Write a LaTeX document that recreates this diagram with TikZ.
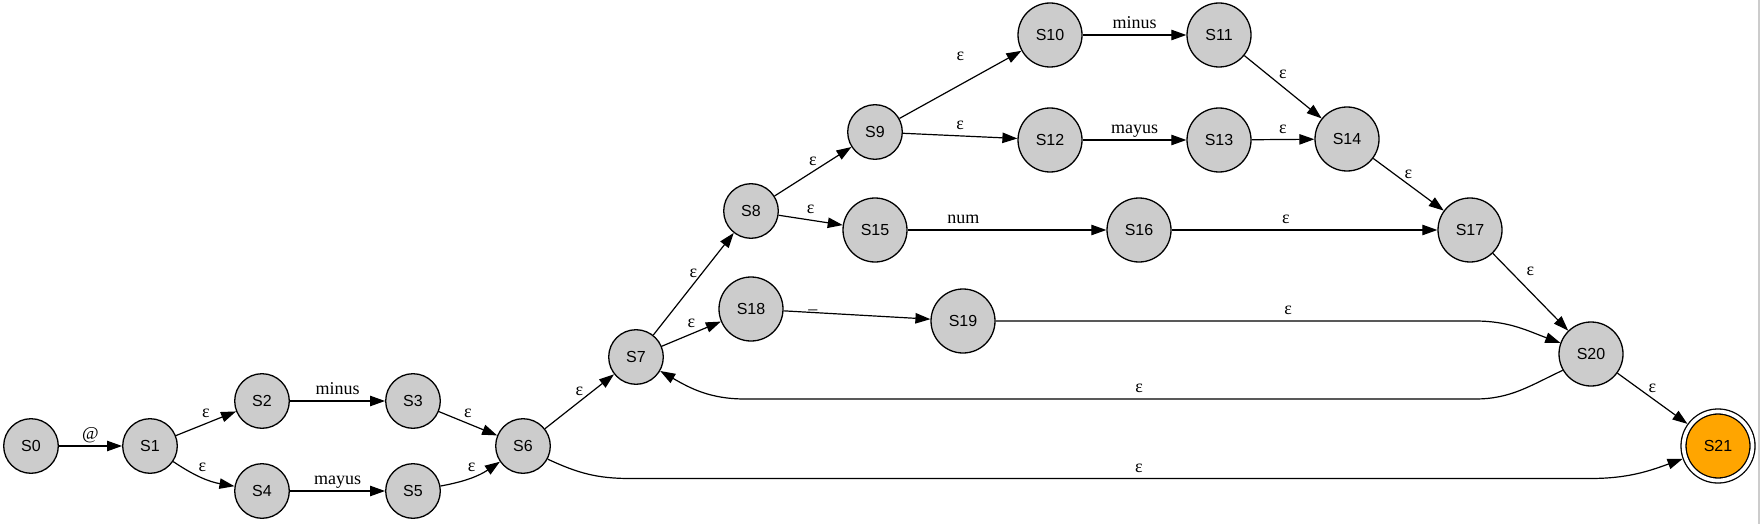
\documentclass[tikz,border=0pt]{standalone}
\usepackage{fontspec}
\setmainfont{Liberation Serif}
\newfontfamily\statefont{Liberation Sans}
\usetikzlibrary{arrows.meta}
\definecolor{stategray}{HTML}{CCCCCC}
\definecolor{finalorange}{HTML}{FFA500}

\begin{document}
\begin{tikzpicture}[x=0.5pt, y=-0.5pt,
  state/.style={circle, draw, line width=0.65pt, fill=stategray, minimum size=27.3pt, inner sep=0pt, font=\statefont\fontsize{8}{9}\selectfont},
  wide/.style={minimum size=32pt},
  final/.style={fill=finalorange, minimum size=34.5pt, double, double distance=1.85pt, outer sep=1.6pt},
  edge/.style={-{Triangle[length=7.5pt,width=5.2pt]}, line width=0.6pt},
  lbl/.style={font=\fontsize{9}{10}\selectfont, inner sep=1.5pt, text height=1.4ex, text depth=.3ex}]
\useasboundingbox (0,0) rectangle (1761,524);
\draw[black!20, line width=0.8pt] (1759,0) -- (1759,524);

\node[state] (S0) at (31,446) {S0};
\node[state] (S1) at (150,446) {S1};
\node[state] (S2) at (262,401) {S2};
\node[state] (S3) at (413,401) {S3};
\node[state] (S4) at (262,491) {S4};
\node[state] (S5) at (413,491) {S5};
\node[state] (S6) at (523,446) {S6};
\node[state] (S7) at (636,357) {S7};
\node[state] (S8) at (751,211) {S8};
\node[state] (S9) at (875,132) {S9};
\node[state, wide] (S10) at (1050,35) {S10};
\node[state, wide] (S11) at (1219,35) {S11};
\node[state, wide] (S12) at (1050,140) {S12};
\node[state, wide] (S13) at (1219,140) {S13};
\node[state, wide] (S14) at (1347,139) {S14};
\node[state, wide] (S15) at (875,230) {S15};
\node[state, wide] (S16) at (1139,230) {S16};
\node[state, wide] (S17) at (1470,230) {S17};
\node[state, wide] (S18) at (751,309) {S18};
\node[state, wide] (S19) at (963,321) {S19};
\node[state, wide] (S20) at (1591,354) {S20};
\node[state, final] (S21) at (1718,446) {S21};

\coordinate (c19) at (1475,321);
\coordinate (c20) at (1475,399);
\coordinate (c7) at (745,399);
\coordinate (c6) at (630,478.5);
\coordinate (c21) at (1590,478.5);

\draw[edge] (S0) -- node[lbl, above]{@} (S1);
\draw[edge] (S1) -- node[lbl, above]{ε} (S2);
\draw[edge] (S1) to[bend right=12] node[lbl, above]{ε} (S4);
\draw[edge] (S2) -- node[lbl, above]{minus} (S3);
\draw[edge] (S4) -- node[lbl, above]{mayus} (S5);
\draw[edge] (S3) -- node[lbl, above]{ε} (S6);
\draw[edge] (S5) to[bend right=12] node[lbl, above]{ε} (S6);
\draw[edge] (S6) -- node[lbl, above]{ε} (S7);
\draw[edge] (S7) -- node[lbl, above]{ε} (S8);
\draw[edge] (S7) -- node[lbl, above]{ε} (S18);
\draw[edge] (S8) -- node[lbl, above]{ε} (S9);
\draw[edge] (S8) -- node[lbl, above]{ε} (S15);
\draw[edge] (S9) -- node[lbl, above=9pt]{ε} (S10);
\draw[edge] (S9) -- node[lbl, above]{ε} (S12);
\draw[edge] (S10) -- node[lbl, above]{minus} (S11);
\draw[edge] (S12) -- node[lbl, above]{mayus} (S13);
\draw[edge] (S11) -- node[lbl, above=1pt]{ε} (S14);
\draw[edge] (S13) -- node[lbl, above]{ε} (S14);
\draw[edge] (S14) -- node[lbl, above]{ε} (S17);
\draw[edge] (S15) -- node[lbl, above, pos=.28]{num} (S16);
\draw[edge] (S16) -- node[lbl, above, pos=.43]{ε} (S17);
\draw[edge] (S17) -- node[lbl, above=5pt]{ε} (S20);
\draw[edge] (S18) -- node[lbl, above=-1pt, pos=.2]{\_} (S19);
\draw[edge] (S19) -- node[lbl, above, pos=.61]{ε} (c19) to[out=0, in=160] (S20.160);
\draw[edge] (S20.210) to[out=205, in=0] (c20) -- node[lbl, above, pos=.46]{ε} (c7) to[out=180, in=-30] (S7.-30);
\draw[edge] (S20) -- node[lbl, above]{ε} (S21);
\draw[edge] (S6.-28) to[out=-25, in=180] (c6) -- node[lbl, above, pos=.53]{ε} (c21) to[out=0, in=200] (S21.200);
\end{tikzpicture}
\end{document}
